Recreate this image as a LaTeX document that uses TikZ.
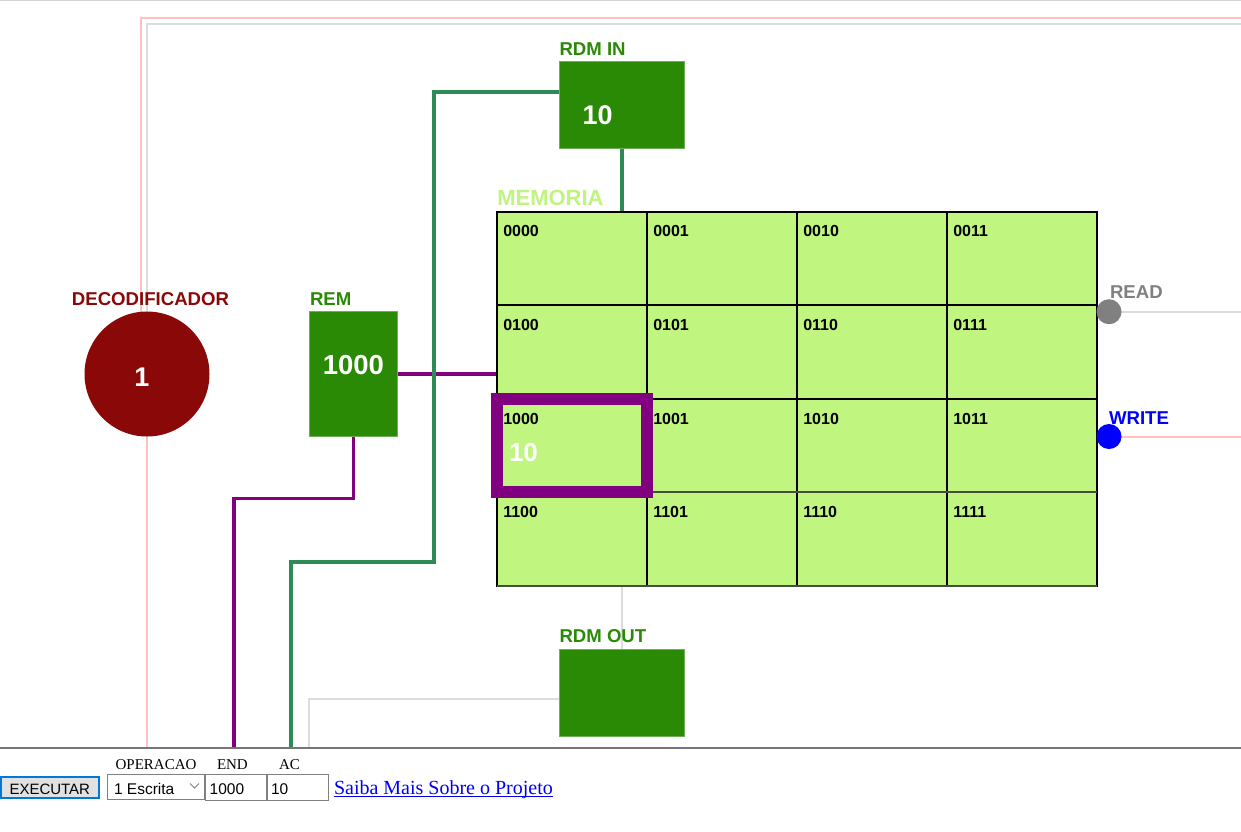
\documentclass[tikz,border=0pt]{standalone}
\usepackage{fontspec}
\setmainfont{Liberation Sans}
\newfontfamily\tnrfont{Liberation Serif}
\usetikzlibrary{backgrounds}
\definecolor{boxgreen}{RGB}{42,138,6}
\definecolor{boxedge}{RGB}{110,175,90}
\definecolor{wiregreen}{RGB}{46,139,87}
\definecolor{wirepurple}{RGB}{128,0,128}
\definecolor{decred}{RGB}{139,8,8}
\definecolor{memfill}{RGB}{192,246,128}
\definecolor{memlabel}{RGB}{192,244,128}
\definecolor{pinkline}{RGB}{255,192,192}
\definecolor{grayline}{RGB}{220,220,220}
\definecolor{readgray}{RGB}{128,128,128}
\definecolor{gridgray}{RGB}{70,78,62}
\definecolor{formline}{RGB}{118,118,118}
\definecolor{fieldgray}{RGB}{128,128,128}
\definecolor{btnblue}{RGB}{0,120,215}
\definecolor{btngray}{RGB}{225,225,225}
\definecolor{linkblue}{RGB}{0,0,238}
\definecolor{topline}{RGB}{210,210,210}
\tikzset{
 txt/.style={inner sep=0, outer sep=0, anchor=base west},
 hdr/.style={txt, font=\fontsize{18.6}{18.6}\selectfont\bfseries},
 valtxt/.style={txt, text=white, font=\fontsize{#1}{#1}\selectfont\bfseries},
 gbox/.style={fill=boxgreen, draw=boxedge, line width=0.8, inner sep=0, outer sep=0, anchor=north west},
 cell/.style={fill=memfill, draw=black, line width=2, minimum width=150, minimum height=93.6, inner sep=0, outer sep=0, anchor=north west},
 celltxt/.style={txt, font=\fontsize{16}{16}\selectfont\bfseries},
 pinkw/.style={draw=pinkline, line width=2},
 grayw/.style={draw=grayline, line width=2},
 greenw/.style={draw=wiregreen, line width=4},
 purplew/.style={draw=wirepurple, line width=3.5},
 formtxt/.style={txt, font=\tnrfont\fontsize{15}{15}\selectfont},
 uitxt/.style={txt, font=\fontsize{15.5}{15.5}\selectfont},
 field/.style={draw=fieldgray, line width=1.2},
 dot/.style={circle, inner sep=0, outer sep=0, minimum size=25},
}
\begin{document}
\begin{tikzpicture}[x=1pt,y=-1pt]
\useasboundingbox (0,0) rectangle (1241,831);
% coordinates
\coordinate (pinkTR) at (1241,17.8);
\coordinate (pinkTL) at (141,17.8);
\coordinate (grayTR) at (1241,24.3);
\coordinate (grayTL) at (147,24.3);
\coordinate (formL) at (0,748);
\coordinate (formR) at (1241,748);
\coordinate (p2) at (234,498.5);
\coordinate (g1) at (434.3,92.3);
\coordinate (g2) at (290.7,561.7);
\coordinate (q1) at (309.3,699);
\coordinate (readend) at (1241,311.7);
\coordinate (writeend) at (1241,436.5);
% decodificador
\node[circle, fill=decred, minimum size=125, inner sep=0, outer sep=0] (dec) at (147,374) {};
\node[valtxt=27, anchor=base] (decval) at (142,386.7) {1};
\node[hdr, text=decred, anchor=base] (declab) at (150.5,305) {DECODIFICADOR};
% REM
\node[gbox, minimum width=88, minimum height=124.8] (rem) at (309.5,311.7) {};
\node[valtxt=27.5, anchor=base] (remval) at (353.4,374.3) {1000};
\node[hdr, text=boxgreen] (remlab) at (310,305) {REM};
% RDM IN
\node[gbox, minimum width=125, minimum height=86.6] (rdmin) at (559.3,61.7) {};
\node[valtxt=27] (rdminval) at (582.5,124) {10};
\node[hdr, text=boxgreen] (rdminlab) at (559.5,55) {RDM IN};
% RDM OUT
\node[gbox, minimum width=125, minimum height=87] (rdmout) at (559.3,649) {};
\node[hdr, text=boxgreen] (rdmoutlab) at (559.5,642.5) {RDM OUT};
% memory
\node[inner sep=0, outer sep=0, minimum width=600, minimum height=374.4, anchor=north west] (mem) at (497,211.5) {};
\foreach \lab [count=\i from 0] in {0000,0001,0010,0011,0100,0101,0110,0111,1000,1001,1010,1011,1100,1101,1110,1111}{
  \pgfmathtruncatemacro\cc{mod(\i,4)}
  \pgfmathtruncatemacro\rr{\i/4}
  \node[cell] (c\lab) at ({497+150*\cc},{211.5+93.6*\rr}) {};
  \node[celltxt] (t\lab) at ({503.3+150*\cc},{236.8+93.6*\rr}) {\lab};
}
\draw[gridgray, line width=2] (c1100.north west) -- (c1111.north east);
\draw[gridgray, line width=2] (c1100.south west) -- (c1111.south east);
\draw[wirepurple, line width=12] (c1000.north west) rectangle (c1000.south east);
\node[valtxt=26] (cellval) at (509,461) {10};
\node[txt, text=memlabel, font=\fontsize{22}{22}\selectfont\bfseries] (memlab) at (497.3,205) {MEMORIA};
% read / write
\node[dot, fill=readgray] (read) at (1109,311.7) {};
\node[hdr, text=readgray] (readlab) at (1110,298) {READ};
\node[dot, fill=blue] (write) at (1109,436.5) {};
\node[hdr, text=blue] (writelab) at (1109,424) {WRITE};
% wires
\begin{pgfonlayer}{background}
\fill[white] (0,0) rectangle (1241,831);
\draw[topline, line width=1.2] (0,0.6) -- (1241,0.6);
\draw[pinkw] (pinkTR) -- (pinkTL) -- (pinkTL |- dec.center);
\draw[grayw] (grayTR) -- (grayTL) -- (dec.center);
\draw[pinkw] (dec.center) -- (dec.center |- formL);
\draw[purplew] (rem.east) -- (rem.east -| mem.west);
\draw[purplew] (rem.south) -- (rem.south |- p2) -- (p2) -- (p2 |- formL);
\draw[greenw] (rdmin.west |- g1) -- (g1) -- (g1 |- g2) -- (g2) -- (g2 |- formL);
\draw[greenw] (rdmin.south) -- (rdmin.south |- mem.north);
\draw[grayw] (rdmout.north |- mem.south) -- (rdmout.north);
\draw[grayw] (rdmout.west |- q1) -- (q1) -- (q1 |- formL);
\draw[grayw] (read.center) -- (readend);
\draw[pinkw] (write.center) -- (writeend);
\end{pgfonlayer}
% form
\draw[formline, line width=1.2] (formL) -- (formR);
\node[formtxt] (oplab) at (115.6,769) {OPERACAO};
\node[formtxt] (endlab) at (217,769) {END};
\node[formtxt] (aclab) at (279,769) {AC};
\node[draw=btnblue, line width=2, fill=btngray, inner sep=0, outer sep=0, minimum width=98.3, minimum height=21.3, anchor=north west] (exec) at (1,776.7) {};
\node[txt, font=\fontsize{15}{15}\selectfont] (exectxt) at (9.5,794) {EXECUTAR};
\node[field, fill=white, inner sep=0, outer sep=0, minimum width=96.5, minimum height=24.5, anchor=north west] (sel) at (107.8,774.6) {};
\node[uitxt] (seltxt) at (114,794) {1 Escrita};
\draw[fieldgray, line width=0.9] (190,783.5) -- (194.5,788) -- (199,783.5);
\node[field, fill=white, inner sep=0, outer sep=0, minimum width=60.8, minimum height=25.5, anchor=north west] (endin) at (205.6,774.6) {};
\node[uitxt] (endtxt) at (209.7,794) {1000};
\node[field, fill=white, inner sep=0, outer sep=0, minimum width=61, minimum height=25.5, anchor=north west] (acin) at (267.2,774.6) {};
\node[uitxt] (actxt) at (271,794) {10};
\node[txt, text=linkblue, font=\tnrfont\fontsize{20}{20}\selectfont] (link) at (334,794.3) {Saiba Mais Sobre o Projeto};
\draw[linkblue, line width=1] ([yshift=-2.4pt]link.base west) -- ([yshift=-2.4pt]link.base east);
\end{tikzpicture}
\end{document}
